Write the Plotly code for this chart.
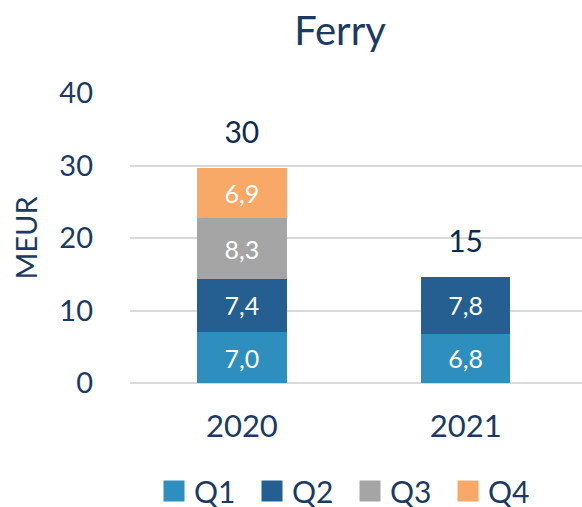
import plotly.graph_objects as go

years = ["2020", "2021"]
q1 = [7.0, 6.8]
q2 = [7.4, 7.8]
q3 = [8.3, None]
q4 = [6.9, None]
totals = [30, 15]

series = [("Q1", q1, "#2E8FBE"), ("Q2", q2, "#255F92"),
          ("Q3", q3, "#A5A5A5"), ("Q4", q4, "#F8A867")]

navy = "#1B3A63"
font = "Lato"


def fmt(v):
    return "" if v is None else f"{v:.1f}".replace(".", ",")


# stack heights, used to put the total label just above each stack
stack = [sum(v or 0 for v in col) for col in zip(q1, q2, q3, q4)]

fig = go.Figure()

for name, vals, color in series:
    fig.add_trace(go.Bar(
        x=years, y=vals, name=name,
        marker=dict(color=color, line=dict(width=0)),
        text=[fmt(v) for v in vals],
        textposition="inside", insidetextanchor="middle",
        textfont=dict(color="white", size=25, family=font),
        width=0.4, showlegend=False,
    ))
    # legend entry with bigger square
    fig.add_trace(go.Scatter(
        x=[None], y=[None], mode="markers", name=name,
        marker=dict(symbol="square", size=16, color=color,
                    line=dict(width=5, color=color)),
    ))

# totals above the stacks
fig.add_trace(go.Scatter(
    x=years, y=[s + 4.5 for s in stack], mode="text",
    text=[str(t) for t in totals], textposition="middle center",
    textfont=dict(size=30, color="#0B2A52", family=font),
    showlegend=False,
))

fig.update_layout(
    barmode="stack",
    width=582, height=507,
    paper_bgcolor="white", plot_bgcolor="white",
    font=dict(family=font, color=navy, size=28),
    title=dict(text="Ferry", x=340 / 582, xref="container", xanchor="center",
               y=1 - 31 / 507, yref="container", yanchor="middle",
               font=dict(size=40, color=navy, family=font)),
    margin=dict(l=130, r=0, t=93, b=124, autoexpand=False),
    bargap=0.6,
    legend=dict(orientation="h", xref="container", yref="container",
                x=350 / 582, xanchor="center", y=1 - 491 / 507, yanchor="middle",
                font=dict(size=30, color=navy), itemwidth=30,
                traceorder="normal", entrywidth=53),
)

fig.update_xaxes(range=[-0.5, 1.52], showgrid=False, showline=False,
                 ticks="", tickfont=dict(size=31, color=navy),
                 ticklabelstandoff=22, automargin=False)
fig.update_yaxes(range=[0, 40], dtick=10, showgrid=True, gridcolor="#D9D9D9",
                 gridwidth=1.5, zeroline=True, zerolinecolor="#D9D9D9",
                 zerolinewidth=1.5, showline=False, ticks="",
                 tickfont=dict(size=29, color=navy), ticklabelstandoff=36,
                 automargin=False,
                 title=dict(text="MEUR", font=dict(size=29, color=navy), standoff=13))

fig.write_html("out.html", config={"displayModeBar": False},
               post_script="document.body.style.margin='0px';")
